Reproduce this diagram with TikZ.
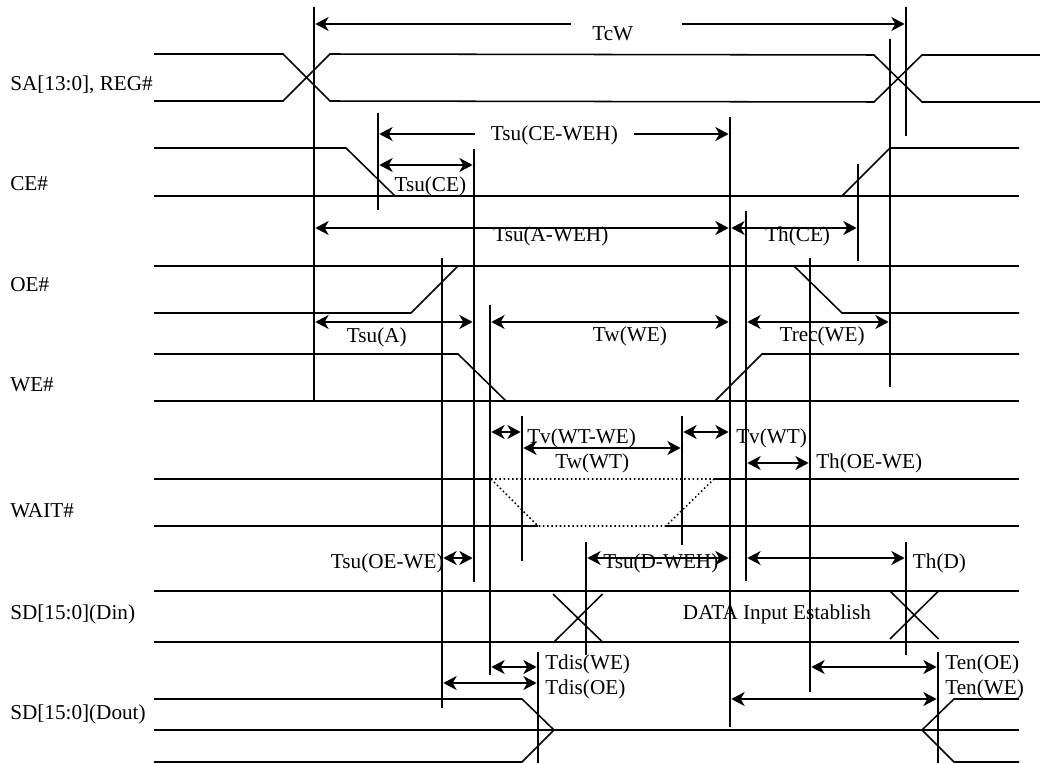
\documentclass[tikz,border=0pt]{standalone}
\usepackage{fontspec}
\setmainfont{Liberation Serif}
\usetikzlibrary{arrows.meta}
\tikzset{
  sig/.style={line width=1.15pt},
  mark line/.style={line width=1.15pt},
  dim/.style={line width=1.15pt,{Stealth[length=10pt,width=10.5pt,inset=3pt]}-{Stealth[length=10pt,width=10.5pt,inset=3pt]},shorten <=1pt,shorten >=1pt},
  dimto/.style={line width=1.15pt,-{Stealth[length=10pt,width=10.5pt,inset=3pt]},shorten >=1pt},
  txt/.style={anchor=base west,inner sep=0pt,font=\fontsize{15.9}{18}\selectfont},
}
\begin{document}
\begin{tikzpicture}[x=0.75pt,y=-0.75pt]
\useasboundingbox(0,0)rectangle(1040,763);
% signal names
\foreach \n/\y/\s in {sa/90.7/{SA[13:0], REG\#},ce/190.7/CE\#,oe/291.7/OE\#,we/391.7/WE\#,wait/517/WAIT\#,din/619/{SD[15:0](Din)},dout/719/{SD[15:0](Dout)}}{\node[txt](\n) at (10,\y){\s};}
% SA
\draw[sig](154,54)--(283,54)--(330,101)--(874,102)--(922,55)--(1040,55);
\draw[sig](154,101)--(283,101)--(330,54)--(874,55)--(922,102)--(1040,102);
% CE
\draw[sig](154,148)--(346,148)--(395,196);
\draw[sig](154,196)--(1019,196);
\draw[sig](842,196)--(890,148)--(1019,148);
% OE
\draw[sig](154,266)--(1019,266);
\draw[sig](154,313)--(411,313)--(458,266);
\draw[sig](794,266)--(842,313)--(1019,313);
% WE
\draw[sig](154,354)--(458,354)--(506,401);
\draw[sig](154,401)--(1019,401);
\draw[sig](715,401)--(762,354)--(1019,354);
% WAIT
\draw[sig](154,479)--(491,479) (714,479)--(1019,479);
\draw[sig](154,526)--(538,526) (666,526)--(1019,526);
\draw[sig,dotted](491,479)--(714,479) (491,479)--(538,526)--(666,526)--(714,479);
% SD in
\draw[sig](154,591)--(1019,591);
\draw[sig](154,642)--(1019,642);
\draw[sig](553,594)--(602.5,642) (554,642)--(602.5,594);
\draw[sig](890,591)--(938.5,639) (890,639)--(938.5,591);
% SD out
\draw[sig](154,699)--(522,699)--(554,730) (154,762)--(522,762)--(554,730);
\draw[sig](154,730)--(1019,730);
\draw[sig](1019,699)--(954,699)--(922,730)--(954,762)--(1019,762);
% vertical marks
\foreach \x/\ya/\yb in {314/7/401,378/113/210,474/149/581.5,442/258/707.5,490/305.5/675,522/416/560.5,730/117/726.5,746/211/580.5,810/258/691.5,682/416/545,586/541.5/655,906/7/136,906/541.5/654.5,890/39/387,858/164/261,538/651.5/763,938/651.5/763}{\draw[mark line](\x,\ya)--(\x,\yb);}
% time arrows
\foreach \xa/\xb/\y in {378/474/165,314/730/228,730/858/228,314/474/322,490/730/322,746/890/322,490/522/432,682/730/432,522/682/448,746/810/463,442/474/558,586/730/558,746/906/558,490/538/667,442/538/683,810/938/667,730/938/699}{\draw[dim](\xa,\y)--(\xb,\y);}
\draw[dimto](571,24)--(314,24);
\draw[dimto](681.5,24)--(906,24);
\draw[dimto](475,134)--(378,134);
\draw[dimto](633.5,134)--(730,134);
% timing names
\foreach \n/\x/\y/\s in {tcw/592/40.7/TcW,tsuce/394.3/191.7/Tsu(CE),tsucew/490.7/140.7/Tsu(CE-WEH),tsuaw/493/241.7/Tsu(A-WEH),thce/765/241.7/Th(CE),tsua/346.7/342.3/Tsu(A),twwe/592.7/342/Tw(WE),trec/779.3/342/Trec(WE),tvwe/527/443.3/Tv(WT-WE),tvwt/736/443.3/Tv(WT),twwt/555/468/Tw(WT),thoe/816/468/Th(OE-WE),tsuoe/330.7/568/Tsu(OE-WE),tsud/603/568/Tsu(D-WEH),thd/912.7/568/Th(D),data/682.7/619/DATA Input Establish,tdiswe/545/669/Tdis(WE),tdisoe/545/694/Tdis(OE),tenoe/945/669/Ten(OE),tenwe/945/694/Ten(WE)}{\node[txt](\n) at (\x,\y){\s};}
\end{tikzpicture}
\end{document}
